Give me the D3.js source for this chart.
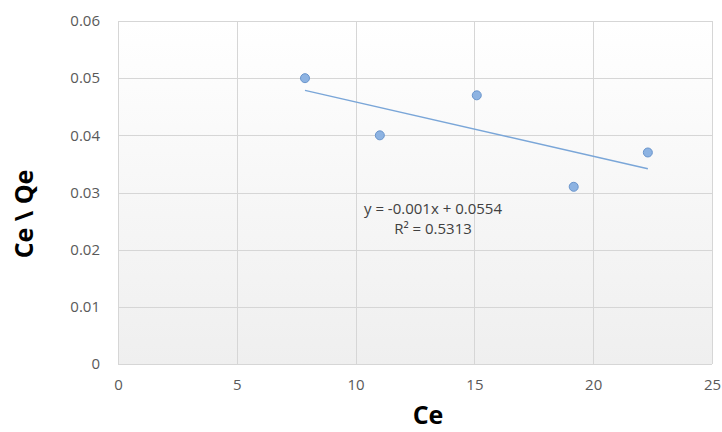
<!DOCTYPE html>
<meta charset="utf-8">
<style>
  body { margin: 0; background: #fff; }
  text { font-family: "Open Sans", sans-serif; }
  .tick text { font-size: 15px; fill: #595959; }
  .title { font-size: 25px; font-weight: bold; fill: #000; }
  .eq { font-size: 15px; fill: #404040; }
</style>
<svg width="722" height="432"></svg>
<script src="https://d3js.org/d3.v7.min.js"></script>
<script>
  var ceValues = [7.87, 11.02, 15.1, 19.18, 22.3];
  var ratioValues = [0.05, 0.04, 0.047, 0.031, 0.037];
  var xTicks = [0, 5, 10, 15, 20, 25];
  var yTicks = [0, 0.01, 0.02, 0.03, 0.04, 0.05, 0.06];
  var eqLines = ["y = -0.001x + 0.0554", "R\u00b2 = 0.5313"];

  var margin = {top: 21, right: 10, bottom: 68, left: 118},
    width = 722 - margin.left - margin.right,
    height = 432 - margin.top - margin.bottom;

  var svg = d3.select("svg");
  var defs = svg.append("defs");
  var grad = defs.append("linearGradient").attr("id", "bg")
    .attr("x1", 0).attr("y1", 0).attr("x2", 0).attr("y2", 1);
  grad.append("stop").attr("offset", "0%").attr("stop-color", "#ffffff");
  grad.append("stop").attr("offset", "100%").attr("stop-color", "#efefef");

  var g = svg.append("g").attr("transform", "translate(" + margin.left + "," + margin.top + ")");

  var x = d3.scaleLinear().domain([0, 25]).range([0, width]);
  var y = d3.scaleLinear().domain([0, 0.06]).range([height, 0]);

  g.append("rect").attr("width", width).attr("height", height).attr("fill", "url(#bg)");

  // grid
  g.selectAll(".hg").data(yTicks).enter().append("line")
    .attr("x1", 0).attr("x2", width)
    .attr("y1", function(d) { return Math.round(y(d)) + 0.5; })
    .attr("y2", function(d) { return Math.round(y(d)) + 0.5; })
    .attr("stroke", "#d6d6d6");
  g.selectAll(".vg").data(xTicks).enter().append("line")
    .attr("y1", 0).attr("y2", height)
    .attr("x1", function(d) { return Math.round(x(d)) + 0.5; })
    .attr("x2", function(d) { return Math.round(x(d)) + 0.5; })
    .attr("stroke", "#d6d6d6");

  // axes
  var yAxis = g.append("g").call(d3.axisLeft(y).tickValues(yTicks).tickSize(0).tickPadding(18)
    .tickFormat(function(d) { return d === 0 ? "0" : d3.format(".2f")(d); }));
  yAxis.select(".domain").remove();
  var xAxis = g.append("g").attr("transform", "translate(0," + height + ")")
    .call(d3.axisBottom(x).tickValues(xTicks).tickSize(0).tickPadding(15));
  xAxis.select(".domain").remove();

  // trendline (least squares)
  var mx = d3.mean(ceValues), my = d3.mean(ratioValues);
  var sxy = d3.sum(ceValues, function(v, i) { return (v - mx) * (ratioValues[i] - my); });
  var sxx = d3.sum(ceValues, function(v) { return (v - mx) * (v - mx); });
  var slope = sxy / sxx, icpt = my - slope * mx;
  var xMin = d3.min(ceValues), xMax = d3.max(ceValues);
  g.append("line")
    .attr("x1", x(xMin)).attr("y1", y(slope * xMin + icpt))
    .attr("x2", x(xMax)).attr("y2", y(slope * xMax + icpt))
    .attr("stroke", "#7aa6d8").attr("stroke-width", 1.5);

  // points
  g.selectAll(".pt").data(ceValues).enter().append("circle")
    .attr("cx", function(d) { return x(d); })
    .attr("cy", function(d, i) { return y(ratioValues[i]); })
    .attr("r", 4.5)
    .attr("fill", "#8db3e2").attr("stroke", "#6a95cc").attr("stroke-width", 1);

  // equation
  g.append("text").attr("class", "eq").attr("x", 433 - margin.left).attr("y", 214 - margin.top)
    .attr("text-anchor", "middle").text(eqLines[0]);
  g.append("text").attr("class", "eq").attr("x", 433 - margin.left).attr("y", 234 - margin.top)
    .attr("text-anchor", "middle").text(eqLines[1]);

  // titles
  svg.append("text").attr("class", "title")
    .attr("transform", "translate(33,214) rotate(-90)")
    .attr("text-anchor", "middle").text("Ce \\ Qe");
  svg.append("text").attr("class", "title")
    .attr("x", 428).attr("y", 424)
    .attr("text-anchor", "middle").text("Ce");
</script>
